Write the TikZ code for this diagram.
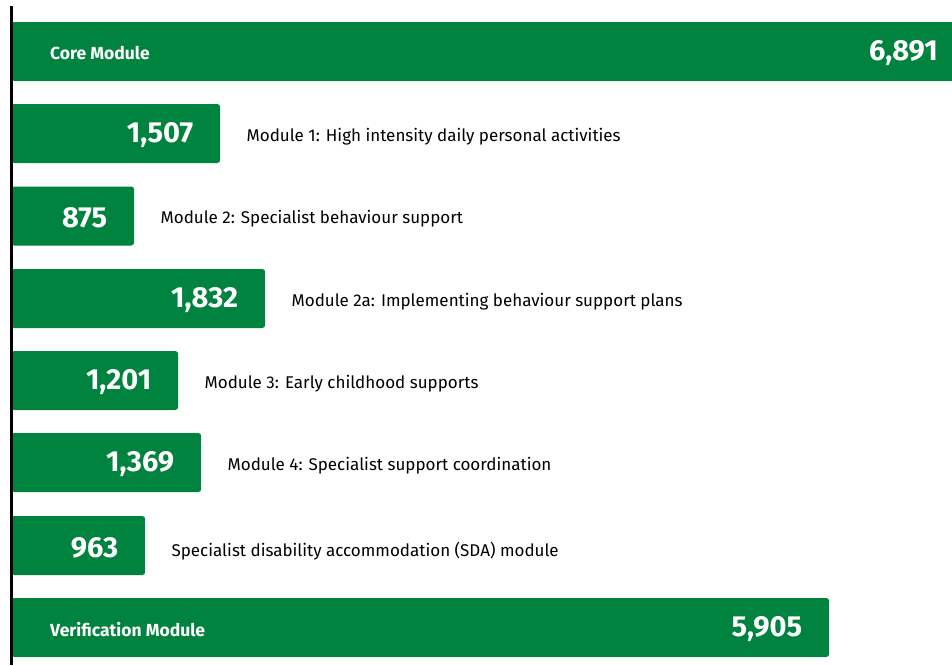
\documentclass[tikz,border=0pt]{standalone}
\usepackage{fontspec}
\setmainfont{Fira Sans}
\definecolor{ndisgreen}{HTML}{00833E}
\begin{document}
\begin{tikzpicture}[x=1pt,y=-1pt,
  barbox/.style={fill=ndisgreen, rounded corners=3pt, draw=none, inner sep=0pt, minimum height=59pt, anchor=west},
  valtext/.style={text=white, font=\fontsize{29}{29}\selectfont\bfseries, anchor=east, inner sep=0pt},
  modname/.style={text=white, font=\fontsize{17.5}{17.5}\selectfont\bfseries, anchor=west, inner sep=0pt},
  labtext/.style={text=black, font=\fontsize{17}{17}\selectfont, anchor=west, inner sep=0pt}]
\useasboundingbox (0,0) rectangle (952,665);
% bars
\node[barbox, minimum width=960pt] (b0) at (11,51.5) {};
\node[barbox, minimum width=209pt] (b1) at (11,133.5) {};
\node[barbox, minimum width=123pt] (b2) at (11,216) {};
\node[barbox, minimum width=254pt] (b3) at (11,298.5) {};
\node[barbox, minimum width=167pt] (b4) at (11,380.5) {};
\node[barbox, minimum width=190pt] (b5) at (11,462.5) {};
\node[barbox, minimum width=134pt] (b6) at (11,545.5) {};
\node[barbox, minimum width=818pt] (b7) at (11,627.5) {};
% axis
\coordinate (axtop) at (11.5,6);
\coordinate (axbot) at (11.5,665);
\draw[line width=2.2pt, black] (axtop) -- (axbot);
% values
\node[valtext] (v0) at (938,53) {6,891};
\node[valtext] (v1) at ([xshift=-27pt,yshift=-2pt]b1.east) {1,507};
\node[valtext] (v2) at ([xshift=-27pt,yshift=-2pt]b2.east) {875};
\node[valtext] (v3) at ([xshift=-27pt,yshift=-2pt]b3.east) {1,832};
\node[valtext] (v4) at ([xshift=-27pt,yshift=-2pt]b4.east) {1,201};
\node[valtext] (v5) at ([xshift=-27pt,yshift=-2pt]b5.east) {1,369};
\node[valtext] (v6) at ([xshift=-27pt,yshift=-2pt]b6.east) {963};
\node[valtext] (v7) at ([xshift=-27pt,yshift=-2pt]b7.east) {5,905};
% module names
\node[modname] (n0) at (50,53) {Core Module};
\node[modname] (n7) at (50,630) {Verification Module};
% labels
\node[labtext] (l1) at ([xshift=26pt,yshift=-3pt]b1.east) {Module 1: High intensity daily personal activities};
\node[labtext] (l2) at ([xshift=26pt,yshift=-3pt]b2.east) {Module 2: Specialist behaviour support};
\node[labtext] (l3) at ([xshift=26pt,yshift=-3pt]b3.east) {Module 2a: Implementing behaviour support plans};
\node[labtext] (l4) at ([xshift=26pt,yshift=-3pt]b4.east) {Module 3: Early childhood supports};
\node[labtext] (l5) at ([xshift=26pt,yshift=-3pt]b5.east) {Module 4: Specialist support coordination};
\node[labtext] (l6) at ([xshift=26pt,yshift=-5.5pt]b6.east) {Specialist disability accommodation (SDA) module};
\end{tikzpicture}
\end{document}
